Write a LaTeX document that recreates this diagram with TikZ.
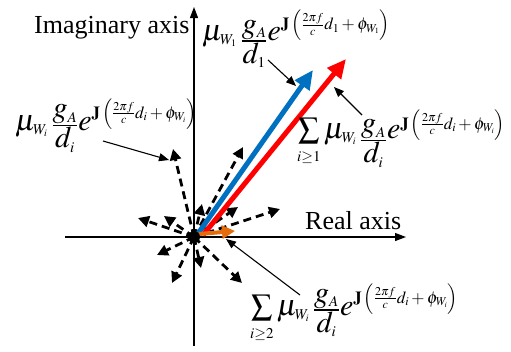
\documentclass[tikz,border=0pt]{standalone}
\usepackage{mathptmx}
\usepackage{fontspec}
\setmainfont{Liberation Serif}
\usetikzlibrary{arrows.meta}
\DeclareMathSizes{30}{30}{15}{10}
\DeclareMathSizes{17}{17}{12}{8}
\definecolor{vblue}{RGB}{0,112,192}
\definecolor{vred}{RGB}{255,0,0}
\definecolor{vorange}{RGB}{228,108,10}
% #1 index of d, #2 index of W, #3 raise of exponent
\newcommand{\myexp}[3]{\raisebox{#3pt}{\fontsize{17}{17}\selectfont$\mathbf{J}\left(\frac{2\pi f}{c}d_{#1}+\phi_{W_{#2}}\right)$}}
% #1 index of d, #2 lowering of the fraction
\newcommand{\myfrac}[2]{\raisebox{-#2pt}{$\frac{\mbox{$g_A$}}{\mbox{$d_{#1}$}}$}}
\begin{document}
\begin{tikzpicture}[x=1pt,y=-1pt,
  axis/.style={line width=1.2pt,-{Triangle[length=11pt,width=8pt]}},
  pointer/.style={line width=1.1pt,-{Triangle[length=10pt,width=8pt]}},
  dasharrow/.style={line width=2.8pt,dash pattern=on 8pt off 5pt,-{Triangle[length=11pt,width=11pt]}},
  bigarrow/.style={line width=5pt,-{Triangle[length=19pt,width=17pt]}},
  lbl/.style={inner sep=0pt,anchor=base west,font=\fontsize{26}{30}\selectfont},
  mlbl/.style={inner sep=0pt,anchor=base west,font=\fontsize{30}{34}\selectfont}]
\useasboundingbox (0,0) rectangle (511,351);
% axes
\coordinate (O) at (194,237);
\coordinate (xl) at (65,237);
\coordinate (xr) at (406,237);
\coordinate (yb) at (194,346);
\coordinate (yt) at (194,7);
\draw[axis] (xl) -- (xr);
\draw[axis] (yb) -- (yt);
% dashed component arrows
\coordinate (d1) at (138,218);
\coordinate (d2) at (164,216);
\coordinate (d3) at (202,204);
\coordinate (d4) at (238,207);
\coordinate (d5) at (280,209);
\coordinate (d6) at (157,255);
\coordinate (d7) at (201,268);
\coordinate (d8) at (172,283);
\coordinate (d9) at (242,283);
\coordinate (d10) at (173,149);
\coordinate (d11) at (243,147);
\foreach \n in {d1,d2,d3,d4,d5,d6,d7,d8,d9,d10,d11}{
  \draw[dasharrow] (O) -- (\n);
}
% main arrows
\coordinate (bs) at (197,235);
\coordinate (bt) at (313,70);
\coordinate (rs) at (203,235);
\coordinate (rt) at (346,59);
\coordinate (os) at (199,234);
\coordinate (ot) at (235,231);
\draw[bigarrow,vblue] (bs) -- (bt);
\draw[bigarrow,vred] (rs) -- (rt);
\draw[line width=4pt,vorange,-{Triangle[length=13pt,width=13pt]}] (os) -- (ot);
\node[circle,fill=black,inner sep=0pt,minimum size=12pt] (dot) at (O) {};
% pointers
\coordinate (p1s) at (268,60);
\coordinate (p1t) at (296,86);
\coordinate (p2s) at (362,115);
\coordinate (p2t) at (334,87);
\coordinate (p3s) at (103,141);
\coordinate (p3t) at (169,160);
\coordinate (p4s) at (300,295);
\coordinate (p4t) at (226,239);
\draw[pointer] (p1s) -- (p1t);
\draw[pointer] (p2s) -- (p2t);
\draw[pointer] (p3s) -- (p3t);
\draw[pointer] (p4s) -- (p4t);
% texts
\node[lbl] (imag) at (34,33) {Imaginary axis};
\node[lbl] (real) at (305,229) {Real axis};
\node[mlbl] (ltop) at (202,40) {$\mu_{W_1}\,\myfrac{1}{8.5}e\myexp{1}{1}{10.5}$};
\node[mlbl] (lleft) at (15,130) {$\mu_{W_i}\,\myfrac{i}{3}e\myexp{i}{i}{12}$};
\node[mlbl] (lright) at (297,138) {$\sum\limits_{i\ge 1}\mu_{W_i}\,\myfrac{i}{10}e\myexp{i}{i}{9}$};
\node[mlbl] (lbot) at (250,315) {$\sum\limits_{i\ge 2}\mu_{W_i}\,\myfrac{i}{2.5}e\myexp{i}{i}{12}$};
\end{tikzpicture}
\end{document}
